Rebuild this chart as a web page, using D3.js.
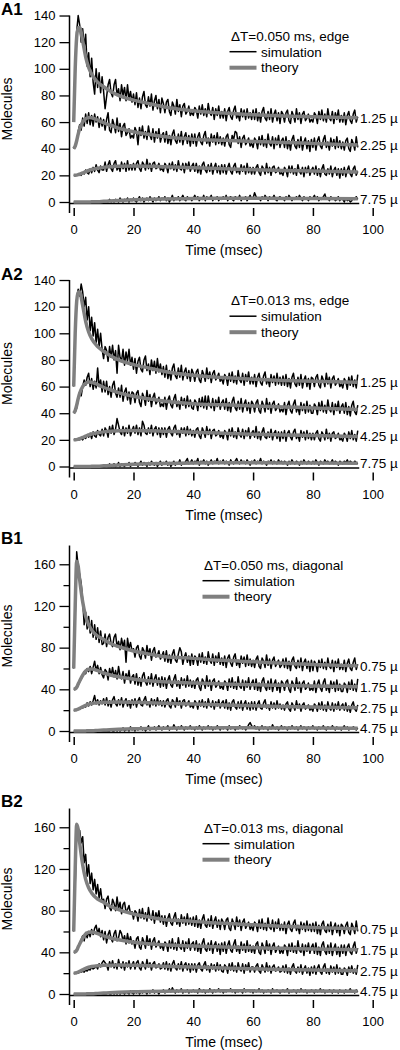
<!DOCTYPE html>
<html><head><meta charset="utf-8">
<script src="https://cdn.jsdelivr.net/npm/d3@7"></script>
<style>body{margin:0;background:#fff} svg{display:block} text{font-family:"Liberation Sans",Arial,Helvetica,sans-serif;fill:#000}</style>
</head><body><svg id="c" width="400" height="1050"></svg>
<script>
// ---- tick labels ----
const tickX = [0, 20, 40, 60, 80, 100];
const tickYA = [0, 20, 40, 60, 80, 100, 120, 140];
const tickYBmajor = [0, 40, 80, 120, 160];
const tickYBminor = [20, 60, 100, 140];
const distLabelsA = ["1.25 µ", "2.25 µ", "4.25 µ", "7.75 µ"];
const distLabelsB = ["0.75 µ", "1.75 µ", "2.75 µ", "4.75 µ"];

// ---- theory curves (time in ms) ----
const theoryT = [0,0.5,1,1.5,2,3,4,5,6,8,10,12,15,20,25,30,40,50,60,70,80,95];
const thA_125 = [60,100,124,131,131,121,109,101,96,90,86.5,83.5,80,76.5,74,71.5,68.5,66.8,65.5,64.6,64,63.2];
const thA_225 = [40,42,46,51,55,60,62.5,63.5,63.3,61.5,59.5,57.8,55.5,52.7,50.8,49.2,47.2,46.3,45.4,44.7,44,42.8];
const thA_425 = [20,20,20.2,20.5,20.9,21.8,22.8,23.7,24.4,25.4,26,26.4,26.8,27,26.8,26.5,25.7,25,24.3,23.7,23.2,22.5];
const thA_775 = [0,0,0,0,0,0,0,0.05,0.1,0.25,0.5,0.75,1.1,1.6,2,2.3,2.6,2.8,2.8,2.7,2.6,2.4];
const thB_075 = [60,120,163,158,145,124,110,102,97,91,88,84.5,81,76.8,74,71.5,69.7,67.8,66.5,65,63.8,62.5];
const thB_175 = [40,40.5,42,45,48,53.5,57.5,59.3,59.5,58,55.8,54,52,49.6,48.2,47.2,46,45,44.4,43.8,43.3,42.5];
const thB_275 = [20,20.1,20.5,21,21.7,23.2,24.6,25.7,26.4,27.2,27.5,27.7,27.8,27.5,27.1,26.7,25.8,25,24.2,23.6,23,22.4];
const thB_475 = [0,0,0,0,0,0.05,0.1,0.2,0.3,0.6,0.9,1.2,1.6,2.1,2.5,2.7,2.9,3,3,2.9,2.8,2.6];

// ---- simulation traces, one value per 0.5 ms, t = 0..95 (rows of 10 ms) ----
const simA1_125 = [
60,96,128,140,133,120,130,116,126,102,112,94,108,90,81,100,86,97,82,94,
83,70,79,88,92,82,79,88,92,80,85,76,88,80,86,76,88,77,83,75,
81,73,82,71,78,70,79,83,73,71,79,72,81,69,76,80,70,77,67,78,
74,67,75,77,68,65,75,72,66,77,68,73,64,72,74,66,68,72,65,67,
65,71,69,63,72,66,73,65,70,64,74,67,65,71,62,70,65,72,63,68,
63,70,61,68,71,64,62,69,72,63,66,61,70,64,69,62,70,63,67,62,
69,62,70,61,67,60,68,71,63,61,68,62,70,60,66,69,61,67,59,68,
66,60,67,69,61,59,68,65,60,70,62,67,59,66,68,61,63,66,60,62,
60,67,65,59,68,62,69,61,66,60,70,63,61,68,59,67,62,69,60,65,
60,67,58,65,68,61,59,66,69,60,64];
const simA1_225 = [
40,41,45,53,58,54,63,57,66,59,67,58,65,57,66,60,64,56,63,57,
62,54,62,67,54,52,62,58,52,63,53,59,49,57,59,50,52,55,48,50,
48,56,53,43,56,50,57,48,53,47,57,50,47,55,45,53,48,55,45,50,
52,45,53,44,50,43,51,54,46,44,51,45,53,43,49,52,44,50,42,51,
44,51,42,49,52,45,43,50,53,44,48,42,51,45,50,43,52,44,49,43,
48,42,49,51,43,41,50,47,53,52,44,49,41,48,50,43,45,48,42,44,
41,48,46,40,49,43,50,42,47,41,51,44,42,49,40,48,43,50,41,46,
48,41,49,40,46,39,47,50,42,40,47,41,49,39,45,48,40,46,38,47,
41,48,39,46,49,42,40,47,50,41,45,39,48,42,47,40,49,41,46,40,
45,39,46,48,40,38,47,44,39,49,41];
const simA1_425 = [
20,20,20,20,21,20,22,21,24,22,21,25,22,26,23,28,24,22,27,24,
24,30,23,28,31,25,23,29,31,24,27,23,30,25,29,23,31,24,28,24,
29,24,29,31,25,23,30,28,24,32,25,29,23,29,30,25,26,29,24,25,
23,29,27,22,29,25,30,24,28,23,31,25,24,29,22,29,25,30,23,27,
29,23,29,22,27,21,28,30,24,22,28,23,29,21,26,29,22,27,21,28,
22,28,21,26,29,23,21,27,29,22,25,21,28,23,27,21,29,22,26,21,
26,21,26,28,22,20,27,25,21,29,22,26,20,26,27,22,23,26,21,22,
20,26,24,19,27,22,27,21,25,20,28,23,21,26,19,26,22,27,20,24,
26,21,27,20,25,19,25,28,21,20,25,21,27,19,24,26,20,25,18,25,
20,26,19,24,27,21,19,25,27,20,23];
const simA1_775 = [
0,0,0,0,0,0,0,0,0,0,0,0,0,0,0,0,0,0,0,0,
0,1,0,0,2,0,1,0,2,1,0,3,1,0,2,1,3,0,2,1,
3,1,0,2,4,1,3,0,2,3,1,4,2,0,3,1,2,4,1,3,
2,4,1,3,0,2,5,1,3,2,4,1,3,5,2,1,4,2,3,1,
3,5,2,4,1,3,2,5,1,4,2,3,5,1,3,2,4,1,3,2,
4,2,5,1,3,4,2,1,4,3,2,5,1,3,2,4,1,3,5,2,
3,7,4,2,3,1,4,2,5,3,1,4,2,3,5,2,1,3,4,2,
3,1,4,2,5,3,1,3,2,4,2,5,3,1,4,2,3,1,4,2,
3,5,2,4,1,3,2,4,6,2,3,1,4,2,3,1,2,4,1,3,
2,0,3,1,2,0,1,3,2,4,2];

const simA2_125 = [
60,98,126,133,128,137,131,120,127,110,120,102,112,98,108,93,103,90,100,88,
81,90,87,79,90,82,91,80,87,70,91,82,79,88,76,86,79,88,76,82,
73,81,70,79,82,73,71,80,83,72,77,69,80,72,79,70,81,71,77,69,
75,67,76,66,72,65,74,77,68,66,74,67,76,65,71,74,66,72,64,73,
70,64,71,73,65,63,72,69,64,74,66,71,63,70,72,65,67,70,64,66,
62,69,67,61,70,64,71,63,68,62,72,65,63,70,61,69,64,71,62,67,
62,69,60,67,70,63,61,68,71,62,66,60,69,63,68,61,70,62,67,61,
68,61,69,60,66,59,67,70,62,60,67,61,69,59,65,68,60,66,58,67,
66,60,67,69,61,59,68,65,60,70,62,67,59,66,68,61,63,66,60,62,
59,66,64,58,67,61,68,60,65,59,69];
const simA2_225 = [
40,41,44,50,56,53,60,65,61,67,70,60,66,58,64,59,74,60,65,56,
64,56,64,54,60,52,61,64,55,52,59,52,61,49,56,59,50,56,47,56,
55,48,55,57,48,45,55,52,46,57,49,54,45,52,55,47,49,52,45,47,
45,52,43,50,53,46,44,51,54,45,49,43,52,46,51,44,53,45,50,44,
43,50,48,42,51,45,52,44,53,43,53,46,44,51,42,50,45,52,43,48,
50,43,51,42,48,41,49,52,44,42,49,43,51,41,47,50,42,48,40,49,
47,41,48,50,42,40,49,46,41,51,43,48,40,47,49,42,44,47,41,43,
41,48,39,46,49,42,40,47,50,41,45,39,48,42,47,40,49,41,46,40,
40,47,45,39,48,42,49,41,46,40,50,43,41,48,39,47,42,49,40,45,
47,40,48,39,45,38,46,49,41,39,46];
const simA2_425 = [
20,20,20,20,20,21,20,22,21,24,22,25,21,26,23,22,27,24,23,28,
23,29,27,22,30,25,31,24,28,36,31,26,24,30,23,29,25,31,23,27,
30,25,31,24,29,23,34,31,25,24,29,25,31,23,28,30,24,29,22,29,
24,29,22,28,30,25,23,29,31,24,27,22,29,25,29,23,30,24,28,23,
27,22,28,29,23,21,29,26,22,30,24,28,21,27,28,23,24,27,22,24,
21,27,25,20,28,23,29,22,26,21,29,24,22,28,21,27,23,29,21,25,
27,22,30,21,26,20,26,29,22,21,26,22,28,20,25,27,21,26,19,26,
21,27,19,25,27,22,20,26,28,21,24,19,27,22,26,20,27,21,25,20,
25,20,25,27,21,19,26,24,20,28,21,25,19,25,26,21,22,25,20,21,
19,25,23,19,26,21,27,20,24,19,27];
const simA2_775 = [
0,0,0,0,0,0,0,0,0,0,0,0,0,0,0,0,0,0,0,0,
0,0,1,0,2,0,1,2,0,1,3,0,2,1,0,2,1,3,0,2,
1,3,2,0,2,4,1,3,2,0,3,1,4,2,1,3,0,2,4,1,
3,2,4,1,3,0,2,4,1,3,2,5,1,3,2,4,6,2,3,5,
2,4,3,6,1,4,3,5,2,4,1,3,5,2,4,3,6,2,4,3,
5,2,4,3,1,5,3,2,4,6,3,2,5,3,4,2,5,3,1,4,
3,5,2,4,3,6,2,4,3,1,4,3,5,2,4,3,2,5,3,4,
2,4,3,1,4,2,5,3,2,4,3,1,4,2,5,3,2,4,3,2,
4,2,5,3,1,4,3,2,5,3,4,2,3,5,2,4,3,1,4,3,
2,4,3,5,2,4,3,2,4,3,2];

const simB1_075 = [
60,110,172,158,150,142,126,102,114,98,110,94,106,90,102,88,99,85,96,83,
84,93,81,90,93,84,81,90,93,81,86,78,89,81,87,66,89,79,85,77,
79,71,80,82,72,69,80,77,70,82,73,79,68,77,80,71,73,77,69,72,
76,67,77,66,73,65,74,78,68,66,74,80,76,64,71,75,66,72,63,74,
64,72,70,63,74,66,75,65,71,64,76,68,65,74,63,72,66,75,64,70,
63,72,61,70,73,65,62,71,74,63,68,61,72,65,71,62,73,63,69,62,
68,61,69,72,62,60,70,67,61,73,63,69,60,68,71,62,65,68,61,63,
69,61,70,60,67,58,68,71,62,60,68,61,70,58,66,69,60,67,57,68,
58,67,64,57,68,61,69,60,66,59,70,62,60,68,57,67,61,69,59,64,
59,68,57,65,69,60,58,66,70,59,64];
const simB1_175 = [
40,40,42,44,47,50,53,57,55,60,57,62,55,61,67,58,63,55,61,54,
51,59,57,49,60,53,61,52,58,50,62,53,50,57,46,55,50,58,46,52,
54,45,55,44,51,43,53,56,47,44,52,45,55,43,50,54,44,51,42,52,
43,51,41,49,53,44,42,50,54,43,48,41,51,44,50,42,53,43,49,42,
48,41,49,51,42,39,50,47,41,53,43,49,39,48,50,42,44,48,41,43,
40,48,46,39,50,42,51,41,47,40,52,43,41,49,39,48,42,51,40,46,
49,40,50,39,46,38,48,51,42,39,48,40,50,38,45,49,39,46,37,48,
46,39,47,49,40,37,48,45,39,51,41,47,37,46,48,40,42,46,39,41,
39,48,37,45,49,41,38,47,50,39,44,37,48,41,47,38,49,39,45,38,
38,46,44,37,47,40,49,39,45,38,50];
const simB1_275 = [
20,20,20,21,21,22,22,24,23,27,24,28,25,29,34,26,30,25,29,26,
31,25,32,24,29,23,30,33,26,24,30,25,32,23,28,31,24,29,22,30,
25,31,23,29,32,25,24,30,33,25,28,23,31,25,30,24,32,25,29,24,
29,23,29,31,24,22,30,28,23,32,25,29,22,29,30,24,26,29,23,25,
22,29,27,21,29,24,30,23,28,22,31,25,23,29,21,28,24,30,22,27,
29,22,30,21,27,20,28,30,23,21,28,22,29,20,26,29,21,27,20,28,
21,28,20,26,29,22,21,27,30,22,25,20,28,22,27,21,29,22,26,21,
25,20,26,28,21,19,27,24,20,29,22,26,19,25,27,21,23,25,20,22,
19,26,24,19,27,21,28,20,25,19,28,22,20,27,19,26,21,28,20,24,
26,20,27,19,24,18,25,28,21,19,25];
const simB1_475 = [
0,0,0,0,0,0,0,0,0,0,0,0,0,0,0,0,0,0,0,0,
0,0,0,0,0,1,0,0,1,0,2,0,1,3,0,1,2,0,4,1,
2,0,3,1,2,4,1,3,0,2,5,1,3,2,4,1,3,5,2,1,
4,2,3,5,1,3,2,6,3,1,4,2,5,3,1,4,2,3,5,2,
3,1,4,2,5,3,1,4,2,3,5,2,4,1,3,2,5,3,1,4,
2,4,3,1,5,2,3,4,1,3,2,5,3,2,4,1,3,6,8,5,
3,5,2,4,1,3,5,2,4,3,1,4,2,6,3,2,4,1,3,5,
2,4,3,1,4,2,5,3,2,4,1,3,5,2,4,3,1,4,2,3,
5,2,3,1,4,2,3,5,2,1,4,3,2,5,3,1,4,2,3,1,
3,5,2,4,1,3,2,4,3,1,3];

const simB2_075 = [
60,105,158,152,157,145,151,126,134,113,124,106,116,100,110,96,105,92,101,89,
91,82,91,94,83,80,91,87,80,93,82,88,77,86,88,79,81,85,77,79,
72,80,78,70,81,73,82,72,78,70,83,74,71,80,68,78,72,80,69,75,
67,75,65,73,77,68,66,74,78,67,72,65,76,68,74,66,77,67,73,66,
74,65,75,64,71,63,72,76,66,64,72,65,75,63,70,74,64,71,62,72,
69,62,71,73,63,61,72,68,62,74,65,71,61,69,72,63,66,69,62,65,
61,69,67,60,71,63,72,62,68,61,73,64,62,71,60,69,63,72,61,67,
61,69,58,67,70,62,60,68,71,61,66,58,69,62,68,60,70,61,67,60,
68,60,69,58,66,57,67,70,61,59,67,60,69,57,64,68,59,66,56,67,
65,58,66,69,59,57,68,64,58,70,60];
const simB2_175 = [
40,40,42,45,49,52,56,51,59,54,60,55,62,57,63,66,58,63,55,61,
52,60,49,57,61,53,50,58,61,51,54,61,58,51,56,48,58,49,55,48,
51,44,53,55,45,43,54,50,44,56,47,53,43,51,54,45,48,51,44,47,
42,50,48,41,51,44,53,43,49,42,54,45,43,51,41,50,44,53,42,48,
50,42,51,41,48,39,49,53,43,41,49,42,51,39,47,50,41,48,38,49,
41,50,39,47,51,42,40,48,52,41,46,39,50,42,48,40,51,41,47,40,
46,39,48,50,40,38,49,45,39,51,42,48,38,46,49,40,43,46,39,42,
39,47,45,37,48,41,49,40,46,39,51,42,40,48,37,47,41,49,39,45,
48,39,49,38,45,37,47,50,41,38,47,39,49,37,44,48,38,45,36,47,
39,47,37,45,48,40,38,46,50,39,44];
const simB2_275 = [
20,20,20,20,21,21,22,21,23,22,24,23,26,24,25,27,24,29,26,30,
32,30,28,23,31,26,32,25,29,24,33,27,25,31,23,30,26,32,24,28,
31,24,30,32,25,23,31,28,24,33,26,30,23,29,31,25,26,29,24,25,
30,24,31,23,29,22,29,32,25,23,29,24,31,22,28,30,23,29,21,29,
23,29,21,28,30,24,22,28,31,23,27,21,29,24,28,22,30,23,28,22,
21,28,26,20,29,23,30,22,27,21,30,24,22,29,20,28,23,30,21,26,
26,21,27,29,22,20,28,25,21,30,22,27,20,26,28,22,23,26,21,22,
27,21,28,20,25,19,26,29,22,20,26,21,28,19,24,27,20,25,18,26,
20,27,19,25,28,21,19,26,29,20,24,19,27,21,26,19,28,20,25,19,
19,25,23,18,26,21,27,20,24,19,28];
const simB2_475 = [
0,0,0,0,0,0,0,0,0,0,0,0,0,0,0,0,0,0,0,0,
0,0,0,1,0,0,1,0,2,0,1,0,2,1,0,2,1,0,3,1,
0,2,1,3,0,2,1,3,2,0,3,1,2,4,1,3,2,0,3,2,
4,1,3,2,5,2,6,3,1,4,2,3,5,1,3,2,4,1,3,2,
4,2,3,1,5,3,2,4,1,3,2,5,3,1,4,2,3,5,2,4,
1,3,2,4,3,5,2,4,1,3,2,4,3,1,5,2,3,4,2,3,
1,4,2,3,5,2,4,1,3,2,4,3,1,5,2,3,4,2,1,3,
4,2,3,5,1,3,2,4,3,1,4,2,5,3,2,4,1,3,2,4,
3,1,4,2,3,5,2,4,1,3,2,4,3,1,4,2,3,1,4,2,
3,1,4,2,3,5,2,3,1,4,2];

const simTime = d3.range(0, 95.25, 0.5);

const panels = [
  {label:"A1", y0:202,   top:140, ppu:1.332, axisTop:140, major:tickYA, minor:[], legend:"ΔT=0.050 ms, edge", legX:231, names:distLabelsA,
   sim:[simA1_125,simA1_225,simA1_425,simA1_775], th:[thA_125,thA_225,thA_425,thA_775]},
  {label:"A2", y0:466.5, top:140, ppu:1.332, axisTop:140, major:tickYA, minor:[], legend:"ΔT=0.013 ms, edge", legX:231, names:distLabelsA,
   sim:[simA2_125,simA2_225,simA2_425,simA2_775], th:[thA_125,thA_225,thA_425,thA_775]},
  {label:"B1", y0:731,   top:180, ppu:1.042, axisTop:178, major:tickYBmajor, minor:tickYBminor, legend:"ΔT=0.050 ms, diagonal", legX:204, names:distLabelsB,
   sim:[simB1_075,simB1_175,simB1_275,simB1_475], th:[thB_075,thB_175,thB_275,thB_475]},
  {label:"B2", y0:994,   top:180, ppu:1.042, axisTop:178, major:tickYBmajor, minor:tickYBminor, legend:"ΔT=0.013 ms, diagonal", legX:204, names:distLabelsB,
   sim:[simB2_075,simB2_175,simB2_275,simB2_475], th:[thB_075,thB_175,thB_275,thB_475]}
];

const svg = d3.select("#c");
const x = d3.scaleLinear().domain([0, 100]).range([73.7, 372.7]);
const AXIS_X = 69.5;
const GRAY = "#7f7f7f";

panels.forEach(p => {
  const g = svg.append("g");
  const y = d3.scaleLinear().domain([0, p.top]).range([p.y0, p.y0 - p.top * p.ppu]);

  // y axis (major)
  const ya = g.append("g").attr("transform", `translate(${AXIS_X},0)`)
    .call(d3.axisLeft(y).tickValues(p.major).tickSize(10).tickPadding(4).tickSizeOuter(0));
  ya.select(".domain").remove();
  ya.selectAll("line").attr("stroke", "#000").attr("stroke-width", 1.3);
  ya.selectAll("text").attr("font-size", 13).attr("font-family", null);
  if (p.minor.length) {
    const ym = g.append("g").attr("transform", `translate(${AXIS_X},0)`)
      .call(d3.axisLeft(y).tickValues(p.minor).tickSize(6).tickFormat("").tickSizeOuter(0));
    ym.select(".domain").remove();
    ym.selectAll("line").attr("stroke", "#000").attr("stroke-width", 1.3);
  }
  g.append("line").attr("x1", AXIS_X).attr("x2", AXIS_X)
    .attr("y1", y(p.axisTop)).attr("y2", p.y0 + 11)
    .attr("stroke", "#000").attr("stroke-width", 1.5);

  // x axis
  g.append("line").attr("x1", AXIS_X).attr("x2", x(95.5))
    .attr("y1", p.y0 + 1.5).attr("y2", p.y0 + 1.5)
    .attr("stroke", "#000").attr("stroke-width", 1.3);
  const xa = g.append("g").attr("transform", `translate(0,${p.y0 + 6})`)
    .call(d3.axisBottom(x).tickValues(tickX).tickSize(8).tickPadding(9).tickSizeOuter(0));
  xa.select(".domain").remove();
  xa.selectAll("line").attr("stroke", "#000").attr("stroke-width", 1.5);
  xa.selectAll("text").attr("font-size", 13).attr("font-family", null);

  // titles
  g.append("text").attr("x", 224).attr("y", p.y0 + 53).attr("text-anchor", "middle")
    .attr("font-size", 14).text("Time (msec)");
  g.append("text").attr("transform", `translate(12,${p.y0 - (p.top === 140 ? 93 : 95)}) rotate(-90)`)
    .attr("text-anchor", "middle").attr("font-size", 14).text("Molecules");
  g.append("text").attr("x", 1).attr("y", p.y0 - 187).attr("font-size", 17)
    .attr("font-weight", "bold").text(p.label);

  // simulation traces
  const simLine = d3.line().x((d, i) => x(simTime[i])).y(d => y(d));
  p.sim.forEach(s => {
    g.append("path").attr("d", simLine(s)).attr("fill", "none")
      .attr("stroke", "#000").attr("stroke-width", 1.5).attr("stroke-linejoin", "round");
  });
  // theory
  const thLine = d3.line().x((d, i) => x(theoryT[i])).y(d => y(d)).curve(d3.curveMonotoneX);
  p.th.forEach((s, k) => {
    g.append("path").attr("d", thLine(s)).attr("fill", "none")
      .attr("stroke", GRAY).attr("stroke-width", 3.5).attr("stroke-linecap", "butt");
    g.append("text").attr("x", 360).attr("y", y(s[s.length - 1])).attr("dy", "0.36em")
      .attr("font-size", 13.5).text(p.names[k]);
  });

  // legend
  const lx = p.legX;
  g.append("text").attr("x", lx).attr("y", p.y0 - 161.5).attr("font-size", 13.5).text(p.legend);
  g.append("line").attr("x1", lx - 1.5).attr("x2", lx + 25.5).attr("y1", p.y0 - 150.3).attr("y2", p.y0 - 150.3)
    .attr("stroke", "#000").attr("stroke-width", 1.5);
  g.append("text").attr("x", lx + 30).attr("y", p.y0 - 145.5).attr("font-size", 13.5).text("simulation");
  g.append("line").attr("x1", lx - 1.5).attr("x2", lx + 25.5).attr("y1", p.y0 - 134.3).attr("y2", p.y0 - 134.3)
    .attr("stroke", GRAY).attr("stroke-width", 4);
  g.append("text").attr("x", lx + 30).attr("y", p.y0 - 130).attr("font-size", 13.5).text("theory");
});
</script>
</body></html>
